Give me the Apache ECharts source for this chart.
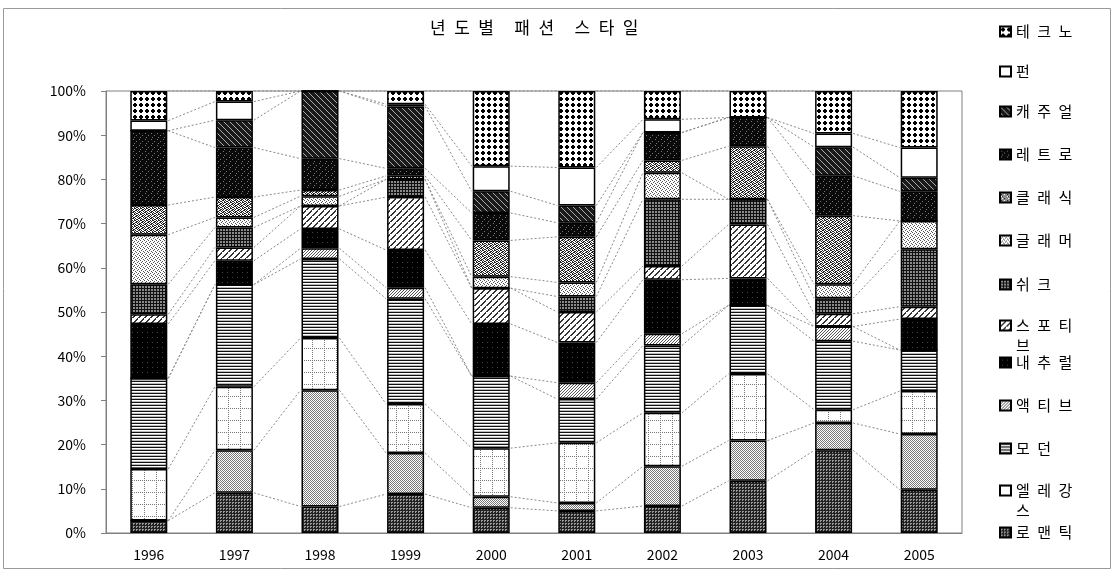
<!DOCTYPE html>
<html>
<head>
<meta charset="utf-8">
<script src="https://cdn.jsdelivr.net/npm/echarts/dist/echarts.min.js"></script>
<style>
  html, body { margin: 0; padding: 0; background: #fff; }
  #chart { width: 1115px; height: 572px; }
</style>
</head>
<body>
<div id="chart"></div>
<script>
// 차트 제목 / 연도
const chartTitle = '년도별 패션 스타일';
const years = ['1996', '1997', '1998', '1999', '2000', '2001', '2002', '2003', '2004', '2005'];

// 스타일별 비율 (그림에서 읽은 값, %)
const romantic  = [2.8, 9.1, 6.0, 8.8, 5.7, 5.0, 6.1, 11.8, 18.7, 9.8];
const unlabeled = [0, 9.6, 26.3, 9.3, 2.5, 1.8, 9.0, 9.1, 6.2, 12.6]; // 범례에 없는 계열
const elegance  = [11.7, 14.4, 11.8, 11.1, 11.0, 13.6, 12.1, 15.1, 3.0, 9.7];
const modern    = [20.5, 23.1, 17.9, 23.8, 16.3, 9.9, 15.2, 15.5, 15.5, 9.3];
const active    = [0, 0, 2.4, 2.5, 0, 3.7, 2.7, 0, 3.3, 0];
const natural   = [12.3, 5.4, 4.4, 8.5, 11.8, 9.1, 12.2, 6.1, 0, 7.0];
const sporty    = [2.2, 3.0, 5.2, 12.0, 8.1, 6.9, 3.1, 12.2, 2.9, 2.8];
const chic      = [6.8, 4.5, 0, 4.0, 0, 3.5, 15.1, 5.7, 3.5, 13.0];
const glamour   = [11.2, 2.3, 2.2, 0, 2.6, 3.2, 6.0, 0, 3.2, 6.4];
const classic   = [6.7, 4.6, 1.4, 0.8, 8.2, 10.3, 2.8, 12.0, 15.5, 0];
const retro     = [16.8, 11.2, 7.1, 1.7, 6.2, 3.2, 6.3, 6.5, 9.0, 6.7];
const casual    = [0, 6.2, 15.3, 14.0, 4.9, 3.9, 0, 0, 6.5, 3.1];
const fun       = [2.3, 4.2, 0, 0.5, 5.7, 8.6, 3.0, 0, 3.1, 6.8];
const techno    = [6.7, 2.4, 0, 3.0, 17.0, 17.3, 6.4, 6.0, 9.6, 12.8];

// 범례 순서 (위 -> 아래)
const legendOrder = ['테크노', '펀', '캐주얼', '레트로', '클래식', '글래머', '쉬크', '스포티브', '내추럴', '액티브', '모던', '엘레강스', '로맨틱'];
const legendY = [31, 71, 111, 154, 197, 240, 284, 326, 362, 405, 448, 491, 532];

const BAR_W = 37;
const FONT = '"Noto Sans CJK KR", sans-serif';

// 흑백 무늬 타일 만들기
function tile(w, h, bg, draw) {
  const c = document.createElement('canvas');
  c.width = w; c.height = h;
  const ctx = c.getContext('2d');
  ctx.fillStyle = bg;
  ctx.fillRect(0, 0, w, h);
  draw(ctx);
  return { image: c, repeat: 'repeat' };
}
function px(ctx, color, pts) {
  ctx.fillStyle = color;
  pts.forEach(p => ctx.fillRect(p[0], p[1], p[2] || 1, p[3] || 1));
}
function bits(ctx, color, w, arr) {
  ctx.fillStyle = color;
  arr.forEach((b, i) => { if (b) ctx.fillRect(i % w, Math.floor(i / w), 1, 1); });
}

const patterns = {
  techno: tile(6, 6, '#fff', ctx => px(ctx, '#000', [[1, 2, 4, 2], [2, 1, 2, 4]])),
  fun: '#fff',
  casual: tile(6, 6, '#1a1a1a', ctx => px(ctx, '#aaa', [[0, 0], [1, 1], [2, 2], [3, 3], [4, 4], [5, 5]])),
  retro: tile(6, 6, '#0a0a0a', ctx => px(ctx, '#777', [[1, 1], [4, 3], [2, 5]])),
  classic: tile(6, 6, '#fff', ctx => bits(ctx, '#222', 6, [
    1, 0, 0, 1, 1, 0,
    0, 1, 1, 0, 0, 1,
    1, 1, 0, 1, 0, 0,
    0, 0, 1, 0, 1, 1,
    1, 0, 1, 1, 0, 0,
    0, 1, 0, 0, 1, 1])),
  glamour: tile(4, 4, '#fff', ctx => bits(ctx, '#555', 4, [1, 0, 0, 0, 0, 0, 1, 0, 0, 1, 0, 0, 0, 0, 0, 1])),
  chic: tile(3, 3, '#8a8a8a', ctx => px(ctx, '#111', [[0, 0, 3, 1], [0, 0, 1, 3]])),
  sporty: tile(6, 6, '#fff', ctx => {
    ctx.fillStyle = '#333';
    for (let i = 0; i < 6; i++) ctx.fillRect((5 - i + 6) % 6, i, 2, 1);
    ctx.fillRect(0, 5, 1, 1);
  }),
  natural: tile(5, 5, '#000', ctx => px(ctx, '#444', [[2, 2]])),
  active: tile(3, 3, '#fff', ctx => px(ctx, '#555', [[0, 0], [2, 1], [1, 2]])),
  modern: tile(2, 3, '#fff', ctx => { px(ctx, '#111', [[0, 0, 2, 1]]); px(ctx, '#bbb', [[0, 2, 2, 1]]); }),
  elegance: tile(12, 12, '#fff', ctx => {
    ctx.fillStyle = '#777';
    for (let i = 0; i < 12; i += 2) { ctx.fillRect(i, 0, 1, 1); ctx.fillRect(0, i, 1, 1); }
  }),
  unlabeled: tile(2, 2, '#fff', ctx => px(ctx, '#777', [[0, 0], [1, 1]])),
  romantic: tile(3, 3, '#9a9a9a', ctx => px(ctx, '#222', [[0, 0, 3, 1], [0, 0, 1, 3], [2, 2]]))
};

// 아래 -> 위 누적 순서
const stackDefs = [
  { name: '로맨틱', data: romantic, fill: patterns.romantic },
  { name: '계열2', data: unlabeled, fill: patterns.unlabeled },
  { name: '엘레강스', data: elegance, fill: patterns.elegance },
  { name: '모던', data: modern, fill: patterns.modern },
  { name: '액티브', data: active, fill: patterns.active },
  { name: '내추럴', data: natural, fill: patterns.natural },
  { name: '스포티브', data: sporty, fill: patterns.sporty },
  { name: '쉬크', data: chic, fill: patterns.chic },
  { name: '글래머', data: glamour, fill: patterns.glamour },
  { name: '클래식', data: classic, fill: patterns.classic },
  { name: '레트로', data: retro, fill: patterns.retro },
  { name: '캐주얼', data: casual, fill: patterns.casual },
  { name: '펀', data: fun, fill: patterns.fun },
  { name: '테크노', data: techno, fill: patterns.techno }
];

// 100% 기준으로 환산
const totals = years.map((y, i) => stackDefs.reduce((s, d) => s + d.data[i], 0));
const pct = stackDefs.map(d => d.data.map((v, i) => v / totals[i] * 100));
const cum = [];
pct.forEach((arr, k) => cum.push(arr.map((v, i) => v + (k ? cum[k - 1][i] : 0))));

// 계열선 데이터 (각 구간 윗변끼리 연결)
const lineData = [];
cum.forEach(arr => {
  for (let i = 0; i < years.length - 1; i++) lineData.push([i, arr[i], arr[i + 1]]);
});

function spaced(s) {
  return s.split('').join('\u2002');
}
function legendLabel(name) {
  const ch = name.split('');
  if (ch.length > 3) {
    // 빈 줄을 위에 두어 첫 줄이 아이콘과 같은 높이에 오게 함
    return '{b| }\n{b|' + spaced(ch.slice(0, 3).join('')) + '}\n{b|' + spaced(ch.slice(3).join('')) + '}';
  }
  return '{a|' + spaced(name) + '}';
}

const chart = echarts.init(document.getElementById('chart'));

const series = stackDefs.map((d, k) => ({
  name: d.name,
  type: 'bar',
  stack: 'total',
  barWidth: BAR_W,
  z: 3,
  data: pct[k],
  itemStyle: { color: d.fill, borderColor: '#000', borderWidth: 1.5 },
  emphasis: { disabled: true }
}));

series.push({
  type: 'custom',
  silent: true,
  z: 1,
  data: lineData,
  encode: { x: 0, y: [1, 2] },
  renderItem(params, api) {
    const i = api.value(0);
    const p1 = api.coord([i, api.value(1)]);
    const p2 = api.coord([i + 1, api.value(2)]);
    const half = BAR_W / 2 + 1;
    return {
      type: 'line',
      shape: { x1: p1[0] + half, y1: p1[1], x2: p2[0] - half, y2: p2[1] },
      style: { stroke: '#888', lineWidth: 1, lineDash: [2, 2] }
    };
  }
});

const legends = legendOrder.map((name, n) => {
  const wrap = name.length > 3;
  return {
    data: [name],
    orient: 'vertical',
    left: 999,
    top: legendY[n] - (wrap ? 28 : 7),
    icon: 'rect',
    itemWidth: 11,
    itemHeight: 10,
    padding: 0,
    formatter: legendLabel,
    textStyle: {
      color: '#000',
      rich: {
        a: { fontFamily: FONT, fontSize: 15, lineHeight: 18, color: '#000' },
        b: { fontFamily: FONT, fontSize: 15, lineHeight: 20, color: '#000' }
      }
    }
  };
});

const option = {
  animation: false,
  title: {
    text: chartTitle.split(' ').map(spaced).join('\u2003\u2009'),
    left: 430,
    top: 19,
    padding: 0,
    textStyle: { fontFamily: FONT, fontSize: 17, fontWeight: 'normal', color: '#000' }
  },
  legend: legends,
  grid: { left: 106, right: 153, top: 91, bottom: 39, show: true, borderColor: '#808080', borderWidth: 1 },
  xAxis: {
    type: 'category',
    data: years,
    axisLine: { lineStyle: { color: '#808080' } },
    axisTick: { length: 5, lineStyle: { color: '#808080' } },
    axisLabel: { color: '#000', fontSize: 14, fontFamily: FONT, margin: 15 }
  },
  yAxis: {
    type: 'value',
    min: 0,
    max: 100,
    interval: 10,
    axisLine: { show: true, lineStyle: { color: '#808080' } },
    axisTick: { show: true, length: 5, lineStyle: { color: '#808080' } },
    splitLine: { show: false },
    axisLabel: { color: '#000', fontSize: 14, fontFamily: FONT, margin: 20, formatter: '{value}%' }
  },
  graphic: [{
    type: 'rect',
    shape: { x: 3.5, y: 8.5, width: 1107, height: 560 },
    style: { fill: 'none', stroke: '#999', lineWidth: 1 },
    silent: true
  }],
  series: series
};

chart.setOption(option);
</script>
</body>
</html>
